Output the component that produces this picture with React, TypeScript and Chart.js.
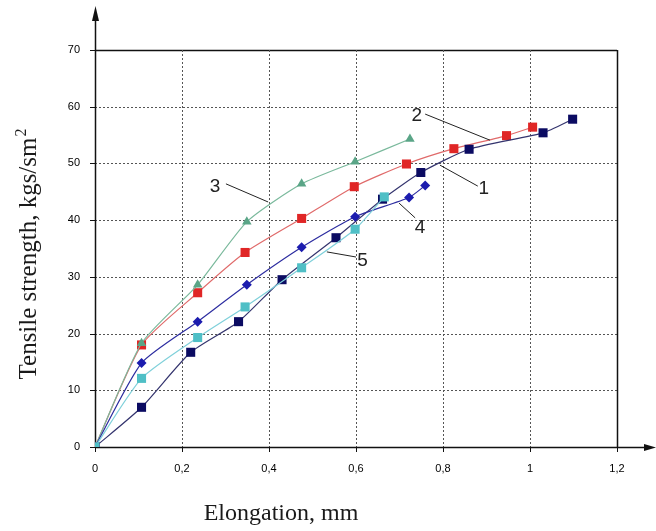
import { useEffect, useRef } from 'react';
import { Chart, registerables } from 'chart.js';

Chart.register(...registerables);

// Series data (elongation mm, tensile strength kgs/sm2)
const s1X = [0, 0.107, 0.22, 0.33, 0.43, 0.554, 0.661, 0.749, 0.86, 1.03, 1.098];
const s1Y = [0, 7.0, 16.7, 22.1, 29.5, 36.9, 43.7, 48.4, 52.5, 55.4, 57.8];
const s2X = [0, 0.107, 0.236, 0.345, 0.475, 0.596, 0.716, 0.825, 0.946, 1.006];
const s2Y = [0, 18.0, 27.2, 34.3, 40.3, 45.9, 49.9, 52.6, 54.9, 56.4];
const s3X = [0, 0.107, 0.236, 0.349, 0.475, 0.598, 0.724];
const s3Y = [0, 18.3, 28.6, 39.7, 46.4, 50.3, 54.3];
const s4X = [0, 0.107, 0.236, 0.349, 0.475, 0.598, 0.722, 0.759];
const s4Y = [0, 14.8, 22.1, 28.6, 35.2, 40.6, 44.0, 46.1];
const s5X = [0, 0.107, 0.236, 0.345, 0.475, 0.598, 0.665];
const s5Y = [0, 12.1, 19.3, 24.7, 31.6, 38.4, 44.1];

// Axis ranges / tick steps
const xMin = 0, xMax = 1.2, xStep = 0.2;
const yMin = 0, yMax = 70, yStep = 10;
const xTitle = 'Elongation, mm';
const yTitle = 'Tensile strength, kgs/sm';
const yTitleSup = '2';

// Curve labels (data coordinates) with leader lines
const labelText = ['1', '2', '3', '4', '5'];
const labelX = [0.894, 0.740, 0.276, 0.747, 0.615];
const labelY = [45.7, 58.6, 46.0, 38.8, 33.1];
const leadFromX = [0.793, 0.759, 0.301, 0.699, 0.533];
const leadFromY = [49.7, 58.7, 46.4, 43.0, 34.4];
const leadToX = [0.880, 0.908, 0.398, 0.736, 0.600];
const leadToY = [46.0, 54.1, 43.2, 40.4, 33.5];

const pts = (xs: number[], ys: number[]) => xs.map((x, i) => ({ x, y: ys[i] }));

const fmt = (v: number) => {
  const r = Math.round(v * 10) / 10;
  return String(r).replace('.', ',');
};

const decor = {
  id: 'decor',
  beforeDatasetsDraw(chart: any) {
    const { ctx, chartArea: a, scales } = chart;
    const xs = scales.x, ys = scales.y;
    ctx.save();
    // grid
    ctx.lineWidth = 1;
    for (let v = yMin + yStep; v <= yMax + 1e-9; v += yStep) {
      const py = Math.round(ys.getPixelForValue(v)) + 0.5;
      const last = Math.abs(v - yMax) < 1e-9;
      ctx.strokeStyle = last ? '#111' : '#555';
      ctx.setLineDash(last ? [] : [2, 2]);
      ctx.lineWidth = last ? 1.5 : 1;
      ctx.beginPath();
      ctx.moveTo(a.left, py);
      ctx.lineTo(a.right, py);
      ctx.stroke();
    }
    for (let v = xMin + xStep; v <= xMax + 1e-9; v += xStep) {
      const px = Math.round(xs.getPixelForValue(v)) + 0.5;
      const last = Math.abs(v - xMax) < 1e-9;
      ctx.strokeStyle = last ? '#111' : '#555';
      ctx.setLineDash(last ? [] : [2, 2]);
      ctx.lineWidth = last ? 1.5 : 1;
      ctx.beginPath();
      ctx.moveTo(px, a.top);
      ctx.lineTo(px, a.bottom);
      ctx.stroke();
    }
    ctx.setLineDash([]);
    // tick marks
    ctx.strokeStyle = '#111';
    ctx.lineWidth = 1;
    for (let v = xMin; v <= xMax + 1e-9; v += xStep) {
      const px = Math.round(xs.getPixelForValue(v)) + 0.5;
      ctx.beginPath();
      ctx.moveTo(px, a.bottom);
      ctx.lineTo(px, a.bottom + 5);
      ctx.stroke();
    }
    for (let v = yMin; v <= yMax + 1e-9; v += yStep) {
      const py = Math.round(ys.getPixelForValue(v)) + 0.5;
      ctx.beginPath();
      ctx.moveTo(a.left - 5, py);
      ctx.lineTo(a.left, py);
      ctx.stroke();
    }
    // axes with arrows
    ctx.fillStyle = '#111';
    ctx.lineWidth = 1.5;
    const ax = Math.round(a.left) + 0.5;
    const ay = Math.round(a.bottom) + 0.5;
    ctx.beginPath();
    ctx.moveTo(ax, a.bottom + 1);
    ctx.lineTo(ax, 14);
    ctx.stroke();
    ctx.beginPath();
    ctx.moveTo(ax, 6);
    ctx.lineTo(ax - 3.5, 21);
    ctx.lineTo(ax + 3.5, 21);
    ctx.closePath();
    ctx.fill();
    ctx.beginPath();
    ctx.moveTo(a.left, ay);
    ctx.lineTo(chart.width - 6, ay);
    ctx.stroke();
    ctx.beginPath();
    ctx.moveTo(chart.width, ay);
    ctx.lineTo(chart.width - 12, ay - 3.5);
    ctx.lineTo(chart.width - 12, ay + 3.5);
    ctx.closePath();
    ctx.fill();
    ctx.restore();
  },
  afterDatasetsDraw(chart: any) {
    const { ctx, chartArea: a, scales } = chart;
    const xs = scales.x, ys = scales.y;
    ctx.save();
    // leader lines & curve numbers
    ctx.strokeStyle = '#222';
    ctx.lineWidth = 1;
    for (let i = 0; i < labelText.length; i++) {
      ctx.beginPath();
      ctx.moveTo(xs.getPixelForValue(leadFromX[i]), ys.getPixelForValue(leadFromY[i]));
      ctx.lineTo(xs.getPixelForValue(leadToX[i]), ys.getPixelForValue(leadToY[i]));
      ctx.stroke();
    }
    ctx.fillStyle = '#222';
    ctx.font = '19px "Liberation Sans", Arial, sans-serif';
    ctx.textAlign = 'center';
    ctx.textBaseline = 'middle';
    for (let i = 0; i < labelText.length; i++) {
      ctx.fillText(labelText[i], xs.getPixelForValue(labelX[i]), ys.getPixelForValue(labelY[i]) + 1);
    }
    // axis titles
    ctx.fillStyle = '#1a1a1a';
    ctx.font = '24px "Liberation Serif", "Times New Roman", serif';
    ctx.textAlign = 'center';
    ctx.textBaseline = 'alphabetic';
    ctx.fillText(xTitle, (a.left + a.right) / 2 - 75, 520);

    ctx.save();
    ctx.translate(36, (a.top + a.bottom) / 2 + 6);
    ctx.rotate(-Math.PI / 2);
    ctx.font = '25px "Liberation Serif", "Times New Roman", serif';
    const w1 = ctx.measureText(yTitle).width;
    ctx.font = '16px "Liberation Serif", "Times New Roman", serif';
    const w2 = ctx.measureText(yTitleSup).width;
    const start = -(w1 + w2) / 2;
    ctx.textAlign = 'left';
    ctx.font = '25px "Liberation Serif", "Times New Roman", serif';
    ctx.fillText(yTitle, start, 0);
    ctx.font = '16px "Liberation Serif", "Times New Roman", serif';
    ctx.fillText(yTitleSup, start + w1 + 1, -10);
    ctx.restore();
    ctx.restore();
  },
};

export default function App() {
  const ref = useRef<HTMLCanvasElement>(null);
  useEffect(() => {
    if (!ref.current) return;
    const mk = (label: string, xs: number[], ys: number[], line: string, fill: string, style: string, r: number, order: number) => ({
      label,
      data: pts(xs, ys),
      showLine: true,
      borderColor: line,
      borderWidth: 1.2,
      tension: 0.2,
      pointStyle: style,
      pointRadius: r,
      pointBackgroundColor: fill,
      pointBorderColor: fill,
      pointBorderWidth: 0,
      order,
    });
    const chart = new Chart(ref.current, {
      type: 'scatter',
      data: {
        datasets: [
          mk('1', s1X, s1Y, '#34346e', '#0b0b62', 'rect', 6.4, 3),
          mk('2', s2X, s2Y, '#e06a6a', '#e02626', 'rect', 6.4, 4),
          mk('3', s3X, s3Y, '#7ab99c', '#5aa587', 'triangle', 5.5, 2),
          mk('4', s4X, s4Y, '#2c2ca0', '#1c1cae', 'rectRot', 5, 1),
          mk('5', s5X, s5Y, '#7fd0da', '#4fbfc6', 'rect', 6.4, 0),
        ] as any,
      },
      options: {
        responsive: false,
        animation: false,
        devicePixelRatio: 1,
        layout: { padding: { top: 50, right: 39, left: 0, bottom: 0 } },
        plugins: { legend: { display: false }, tooltip: { enabled: false } },
        scales: {
          x: {
            type: 'linear',
            min: xMin,
            max: xMax,
            grid: { display: false, drawTicks: false },
            border: { display: false },
            afterFit: (s: any) => { s.height = 84; },
            ticks: {
              stepSize: xStep,
              padding: 15,
              color: '#000',
              font: { family: '"Liberation Sans", Arial, sans-serif', size: 11 },
              callback: (v: any) => fmt(Number(v)),
              maxRotation: 0,
            },
          },
          y: {
            type: 'linear',
            min: yMin,
            max: yMax,
            grid: { display: false, drawTicks: false },
            border: { display: false },
            afterFit: (s: any) => { s.width = 95; },
            ticks: {
              stepSize: yStep,
              padding: 15,
              color: '#000',
              font: { family: '"Liberation Sans", Arial, sans-serif', size: 11 },
              callback: (v: any) => String(v),
            },
          },
        },
      } as any,
      plugins: [decor],
    });
    return () => chart.destroy();
  }, []);
  return (
    <div style={{ position: 'fixed', left: 0, top: 0, width: 656, height: 531, background: '#fff' }}>
      <canvas ref={ref} width={656} height={531} />
    </div>
  );
}
